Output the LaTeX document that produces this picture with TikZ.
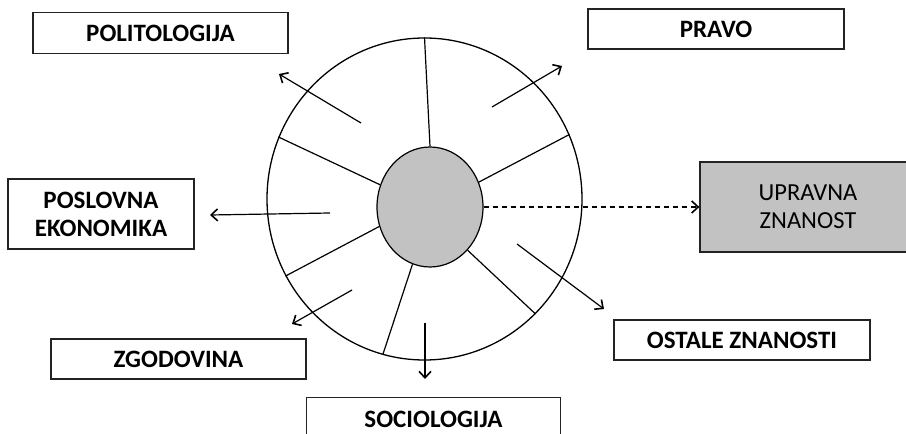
\documentclass[tikz,border=0pt]{standalone}
\usepackage{fontspec}
\setmainfont{Carlito}
\usetikzlibrary{shapes.geometric,arrows.meta}
\definecolor{fillgray}{RGB}{194,194,194}
\definecolor{edgegray}{RGB}{35,35,35}
\begin{document}
\begin{tikzpicture}[x=1bp,y=-1bp,
  labelbox/.style={draw=edgegray,line width=1.3bp,fill=white,inner sep=0pt,
     font=\fontsize{25bp}{28bp}\selectfont\bfseries,align=center},
  grayBox/.style={draw=edgegray,line width=1.3bp,fill=fillgray,inner sep=0pt,
     font=\fontsize{24.5bp}{28bp}\selectfont,align=center},
  spoke/.style={line width=1.2bp,black},
  outarrow/.style={line width=1.2bp,black,-{Straight Barb[length=6.5bp,width=12bp,line width=1.6bp]}}
]
\useasboundingbox (0,0) rectangle (906,434);
% boxes
\node[labelbox,minimum width=255bp,minimum height=41bp] (pol) at (160.5,33) {POLITOLOGIJA};
\node[labelbox,minimum width=256bp,minimum height=40bp] (pra) at (716,29) {PRAVO};
\node[labelbox,minimum width=186bp,minimum height=70bp] (pos) at (101,214) {POSLOVNA\\EKONOMIKA};
\node[grayBox,minimum width=216bp,minimum height=90bp] (upr) at (808,207) {UPRAVNA\\ZNANOST};
\node[labelbox,minimum width=255bp,minimum height=40bp] (zgo) at (178.5,359) {ZGODOVINA};
\node[labelbox,draw=none,minimum width=253bp,minimum height=42bp] (soc) at (433.5,419) {SOCIOLOGIJA};
\draw[draw=edgegray,line width=1.3bp] ([yshift=-30bp]soc.south west) |- (soc.north east) -- ([yshift=-30bp]soc.south east);
\node[labelbox,minimum width=256bp,minimum height=40bp] (ost) at (742,340) {OSTALE ZNANOSTI};
% circles
\node[ellipse,draw=black,line width=1.3bp,minimum width=315bp,minimum height=322bp,inner sep=0pt] (outer) at (424.5,199) {};
\node[ellipse,draw=black,line width=1.2bp,fill=fillgray,minimum width=106bp,minimum height=120bp,inner sep=0pt] (inner) at (430,207) {};
% spokes
\draw[spoke] (inner.north) -- (outer.north);
\draw[spoke] (inner.156) -- (outer.157);
\draw[spoke] (inner.27.5) -- (outer.24.4);
\draw[spoke] (inner.201.6) -- (outer.209.2);
\draw[spoke] (inner.253.7) -- (outer.255);
\draw[spoke] (inner.311.5) -- (outer.314);
% arrows
\coordinate (a1s) at (361,123); \coordinate (a1e) at (279,74);
\coordinate (a2s) at (492,107); \coordinate (a2e) at (562,66);
\coordinate (a3s) at (330,213); \coordinate (a3e) at (210,215);
\coordinate (a4s) at (352,290); \coordinate (a4e) at (292,324);
\coordinate (a5s) at (425,323); \coordinate (a5e) at (425,379);
\coordinate (a6s) at (517,244); \coordinate (a6e) at (604,309);
\draw[outarrow] (a1s) -- (a1e);
\draw[outarrow] (a2s) -- (a2e);
\draw[outarrow] (a3s) -- (a3e);
\draw[outarrow] (a4s) -- (a4e);
\draw[outarrow] (a5s) -- (a5e);
\draw[outarrow] (a6s) -- (a6e);
\draw[outarrow,dash pattern=on 5bp off 4bp] (inner.east) -- (upr.west);
\end{tikzpicture}
\end{document}
